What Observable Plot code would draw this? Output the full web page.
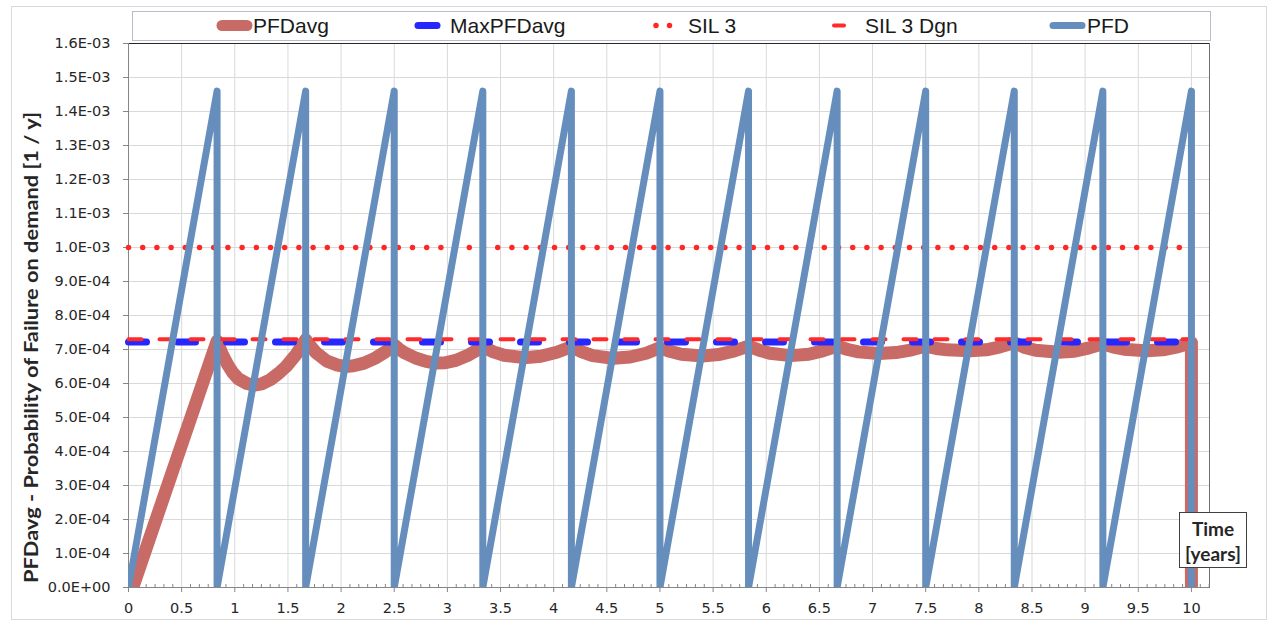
<!DOCTYPE html>
<html><head><meta charset="utf-8">
<script src="https://cdn.jsdelivr.net/npm/d3@7"></script>
<script src="https://cdn.jsdelivr.net/npm/@observablehq/plot@0.6"></script>
<style>
html,body{margin:0;padding:0;background:#fff;}
#wrap{position:relative;width:1271px;height:623px;overflow:hidden;background:#fff;}
#outer{position:absolute;left:11px;top:6px;width:1256px;height:614px;border:1px solid #d9d9d9;box-sizing:border-box;}
#chart{position:absolute;left:0;top:0;}
#legend{position:absolute;left:0;top:0;}
#timebox{position:absolute;left:1179px;top:512px;width:68px;height:56px;box-sizing:border-box;border:1px solid #404040;background:#fff;font:bold 19px Lato, "DejaVu Sans", sans-serif;color:#262626;text-align:center;line-height:25px;padding-top:3px;}
</style></head><body>
<div id="wrap"><div id="outer"></div><div id="chart"></div><svg id="legend" width="1271" height="45"></svg><div id="timebox">Time<br>[years]</div></div>
<script>
// ---- data (values in units of 1e-4 per year) ----
const seriesNames = ["PFDavg", "MaxPFDavg", "SIL 3", "SIL 3 Dgn", "PFD"];
const xTicks = [0,0.5,1,1.5,2,2.5,3,3.5,4,4.5,5,5.5,6,6.5,7,7.5,8,8.5,9,9.5,10];
const yTicks = [0,1e-4,2e-4,3e-4,4e-4,5e-4,6e-4,7e-4,8e-4,9e-4,1e-3,1.1e-3,1.2e-3,1.3e-3,1.4e-3,1.5e-3,1.6e-3];

const pfdT = [0,0.8333,0.8333,1.6667,1.6667,2.5,2.5,3.3333,3.3333,4.1667,4.1667,5,5,5.8333,5.8333,6.6667,6.6667,7.5,7.5,8.3333,8.3333,9.1667,9.1667,10,10];
const pfdV = [0,14.6,0,14.6,0,14.6,0,14.6,0,14.6,0,14.6,0,14.6,0,14.6,0,14.6,0,14.6,0,14.6,0,14.6,0];

const avgT = [0.04,0.8333,0.8833,0.9333,0.9833,1.0333,1.1133,1.1833,1.2533,1.3333,1.4133,1.4833,1.5833,1.6667,
  1.7167,1.7667,1.8667,1.9667,2.04,2.1167,2.2167,2.3167,2.4167,2.5,
  2.55,2.6,2.7,2.8,2.89,2.98,3.08,3.2,3.3333,
  3.4333,3.5333,3.72,3.88,4.03,4.1667,
  4.2667,4.3667,4.56,4.72,4.87,5.0,
  5.1,5.2,5.4,5.55,5.7,5.8333,
  5.9333,6.0333,6.23,6.4,6.53,6.6667,
  6.7667,6.8667,7.06,7.22,7.37,7.5,
  7.6,7.7,7.92,8.07,8.2,8.3333,
  8.4333,8.5333,8.75,8.9,9.03,9.1667,
  9.2667,9.3667,9.58,9.73,9.87,10,10];
const avgV = [0,7.25,6.85,6.55,6.31,6.14,6.0,5.95,5.99,6.11,6.3,6.5,6.88,7.29,
  7.08,6.9,6.66,6.54,6.5,6.52,6.6,6.74,6.93,7.13,
  7.0,6.9,6.75,6.65,6.6,6.61,6.68,6.84,7.08,
  6.93,6.83,6.76,6.8,6.92,7.08,
  6.93,6.82,6.74,6.78,6.89,7.05,
  6.94,6.86,6.81,6.85,6.96,7.1,
  6.98,6.89,6.82,6.86,6.96,7.1,
  7.0,6.93,6.88,6.91,6.99,7.1,
  7.03,6.99,6.96,6.99,7.08,7.2,
  7.06,6.98,6.92,6.95,7.04,7.17,
  7.07,7.01,6.96,6.99,7.08,7.2,0];

const levelT = [0, 10];
const maxPFDavg = 7.22;   // MaxPFDavg
const sil3 = 10.0;        // SIL 3
const sil3Dgn = 7.3;      // SIL 3 Dgn

const colors = {pfdavg:"#c86b66", max:"#2626ff", sil:"#ff2626", dgn:"#ff2a2a", pfd:"#668ebd"};

// ---- build tables ----
const E = 1e-4;
const pfd = pfdT.map((t,i)=>({t, v: pfdV[i]*E}));
const avg = avgT.map((t,i)=>({t, v: avgV[i]*E}));
const lvl = val => levelT.map(t=>({t, v: val*E}));
const minorTicks = d3.range(1, 123).map(i=>i/12).filter(d => d <= 10.17 && Math.abs(d*2 - Math.round(d*2)) > 1e-6);

function fmtE(v){
  const [m,e] = (+v).toExponential(1).split("e");
  const s = e[0] === "-" ? "-" : "+";
  const n = e.replace(/[+-]/, "");
  return m + "E" + s + n.padStart(2, "0");
}

const chart = Plot.plot({
  width: 1271, height: 623,
  marginTop: 43, marginBottom: 36, marginLeft: 128, marginRight: 62,
  style: {background: "transparent", fontFamily: "DejaVu Sans", fontSize: "14.5px", color: "#262626", overflow: "visible"},
  x: {domain: [0, 10.17]},
  y: {domain: [0, 1.6e-3]},
  marks: [
    Plot.gridX(xTicks, {stroke: "#d9d9d9", strokeOpacity: 1}),
    Plot.gridY(yTicks, {stroke: "#d9d9d9", strokeOpacity: 1}),
    Plot.frame({stroke: "#6f6f6f"}),
    Plot.ruleY([yTicks[yTicks.length-1]], {stroke: "#262626"}),
    Plot.axisY({ticks: yTicks, tickSize: 5, tickPadding: 13, tickFormat: fmtE, stroke: "#868686", label: null, fontSize: 14.5}),
    Plot.axisX({ticks: xTicks, tickSize: 5, tickPadding: 10, tickFormat: d => String(d), stroke: "#868686", label: null, fontSize: 14.5}),
    Plot.axisX({ticks: minorTicks, tickSize: 3, dy: -3, tickFormat: () => "", stroke: "#868686", label: null}),
    Plot.ruleX([0], {stroke: "#868686"}),
    Plot.ruleY([0], {stroke: "#868686"}),
    Plot.line(avg, {x: "t", y: "v", stroke: colors.pfdavg, strokeWidth: 13, strokeLinejoin: "round", strokeLinecap: "butt", clip: true}),
    Plot.line(lvl(maxPFDavg), {x: "t", y: "v", stroke: colors.max, strokeWidth: 7, strokeDasharray: "18 31", strokeLinecap: "round"}),
    Plot.line(lvl(sil3), {x: "t", y: "v", stroke: colors.sil, strokeWidth: 5.5, strokeDasharray: "0 14.2", strokeLinecap: "round"}),
    Plot.line(lvl(sil3Dgn), {x: "t", y: "v", stroke: colors.dgn, strokeWidth: 4, strokeDasharray: "13 18", strokeLinecap: "round"}),
    Plot.line(pfd, {x: "t", y: "v", stroke: colors.pfd, strokeWidth: 7, strokeLinejoin: "round", strokeLinecap: "round", clip: true})
  ]
});
document.getElementById("chart").appendChild(chart);

// y-axis title
d3.select(chart).append("text")
  .attr("transform", "translate(32,347.5) rotate(-90)")
  .attr("text-anchor", "middle")
  .attr("dy", "0.36em")
  .attr("textLength", 471)
  .attr("lengthAdjust", "spacingAndGlyphs")
  .style("font", "bold 18px Lato, 'DejaVu Sans', sans-serif")
  .attr("fill", "#262626")
  .text("PFDavg - Probability of Failure on demand [1 / y]");

// legend
const lg = d3.select("#legend");
lg.append("rect").attr("x", 132.5).attr("y", 11.5).attr("width", 1078).attr("height", 29)
  .attr("fill", "#fff").attr("stroke", "#b7bdc9");
const legendItems = [
  {name: seriesNames[0], x1: 222, x2: 247, tx: 253, stroke: colors.pfdavg, w: 11, dash: null},
  {name: seriesNames[1], x1: 418, x2: 437, tx: 450, stroke: colors.max, w: 7, dash: null},
  {name: seriesNames[2], x1: 656, x2: 683, tx: 688, stroke: colors.sil, w: 5.5, dash: "0 13.5"},
  {name: seriesNames[3], x1: 834, x2: 844, tx: 865, stroke: colors.dgn, w: 4, dash: null},
  {name: seriesNames[4], x1: 1053, x2: 1082, tx: 1087, stroke: colors.pfd, w: 7, dash: null}
];
for (const it of legendItems) {
  lg.append("line").attr("x1", it.x1).attr("x2", it.x2).attr("y1", 25.5).attr("y2", 25.5)
    .attr("stroke", it.stroke).attr("stroke-width", it.w).attr("stroke-linecap", "round")
    .attr("stroke-dasharray", it.dash);
  lg.append("text").attr("x", it.tx).attr("y", 33).attr("fill", "#1a1a1a")
    .style("font", "21px 'Liberation Sans', Arial, sans-serif").text(it.name);
}
</script>
</body></html>
